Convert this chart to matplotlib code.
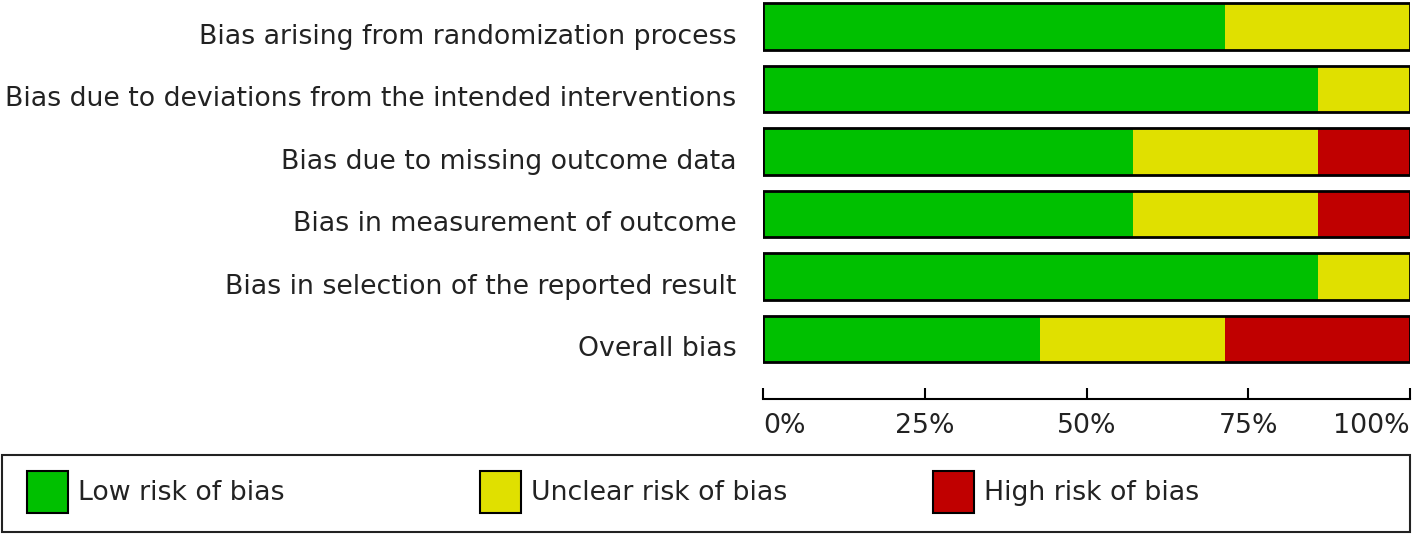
import numpy as np
import matplotlib.pyplot as plt
import matplotlib.transforms as mtransforms
from matplotlib.patches import Rectangle

# dominios de risco de viés (7 estudos)
dominios = [
    "Bias arising from randomization process",
    "Bias due to deviations from the intended interventions",
    "Bias due to missing outcome data",
    "Bias in measurement of outcome",
    "Bias in selection of the reported result",
    "Overall bias",
]
baixo = [5 / 7, 6 / 7, 4 / 7, 4 / 7, 6 / 7, 3 / 7]
incerto = [2 / 7, 1 / 7, 2 / 7, 2 / 7, 1 / 7, 2 / 7]
alto = [0, 0, 1 / 7, 1 / 7, 0, 2 / 7]

rotulos_legenda = ["Low risk of bias", "Unclear risk of bias", "High risk of bias"]
cores = ["#00c000", "#e0e000", "#c00000"]
ticks = [0, 0.25, 0.5, 0.75, 1.0]
ticks_rotulos = ["0%", "25%", "50%", "75%", "100%"]

W, H = 1418, 536
tam_fonte = 19.3
fig = plt.figure(figsize=(W / 100, H / 100), dpi=100)

# eixo: de x=763 a 1410 px, de y=0 a 399 px (linha do eixo)
ax = fig.add_axes([763 / W, 1 - 399 / H, (1410 - 763) / W, 399 / H])
y = np.arange(len(dominios))
esquerda = np.zeros(len(dominios))
for valores, cor in zip([baixo, incerto, alto], cores):
    ax.barh(y, valores, left=esquerda, height=0.75, color=cor, edgecolor="none")
    esquerda = esquerda + np.array(valores)
# contorno preto de cada barra
ax.barh(y, esquerda, height=0.75, color="none", edgecolor="black", linewidth=2)

ax.set_xlim(0, 1)
ax.set_ylim(5.96, -0.424)
for lado in ["top", "right", "left"]:
    ax.spines[lado].set_visible(False)
ax.spines["bottom"].set_linewidth(1.5)
ax.spines["bottom"].set_clip_on(False)
ax.set_yticks(y)
ax.set_yticklabels(dominios, fontsize=tam_fonte, color="#222222")
ax.tick_params(axis="y", length=0, pad=19)
desloc = mtransforms.ScaledTranslation(0, -7 / 100, fig.dpi_scale_trans)
for rot in ax.get_yticklabels():
    rot.set_transform(rot.get_transform() + desloc)
ax.set_xticks(ticks)
ax.set_xticklabels(ticks_rotulos, fontsize=tam_fonte, color="#222222")
ax.tick_params(axis="x", direction="in", length=8, width=1.5, pad=10)
xt = ax.get_xticklabels()
xt[0].set_ha("left")
xt[-1].set_ha("right")

# caixa da legenda
fig.patches.append(Rectangle((2 / W, 1 - 532 / H), (1410 - 2) / W, (532 - 455) / H,
                             transform=fig.transFigure, facecolor="white",
                             edgecolor="#222222", linewidth=1.5))
for i, (rotulo, cor) in enumerate(zip(rotulos_legenda, cores)):
    x0 = 27 + i * 453
    fig.patches.append(Rectangle((x0 / W, 1 - 513 / H), 41 / W, 42 / H,
                                 transform=fig.transFigure, facecolor=cor,
                                 edgecolor="black", linewidth=1.5))
    fig.text((x0 + 51) / W, 1 - 493 / H, rotulo, fontsize=tam_fonte, color="#222222",
             va="center", ha="left")

fig.savefig("out.png", dpi=100)
